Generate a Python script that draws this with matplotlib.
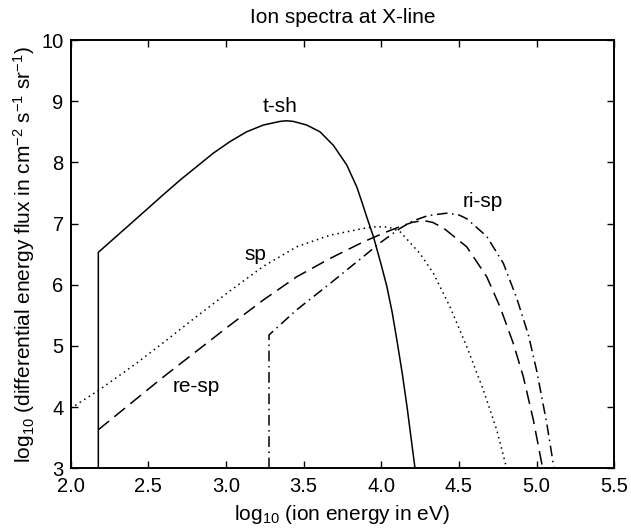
import numpy as np
import matplotlib.pyplot as plt

plt.rcParams['font.family'] = ['Liberation Sans', 'DejaVu Sans']
plt.rcParams['mathtext.default'] = 'regular'

# t-sh (solid)
tsh_x = [2.178, 2.178, 2.414, 2.60, 2.704, 2.811, 2.918, 3.026, 3.133, 3.24,
         3.348, 3.39, 3.433, 3.52, 3.605, 3.691, 3.777, 3.842, 3.874, 3.906,
         3.95, 4.0, 4.035, 4.07, 4.10, 4.135, 4.167, 4.217]
tsh_y = [3.0, 6.53, 7.06, 7.48, 7.71, 7.93, 8.15, 8.34, 8.50, 8.61,
         8.67, 8.68, 8.67, 8.61, 8.50, 8.28, 7.96, 7.60, 7.36, 7.11,
         6.78, 6.32, 5.98, 5.55, 5.10, 4.55, 3.98, 3.0]

# sp (dotted)
sp_x = [2.0, 2.178, 2.425, 2.6, 2.8, 3.026, 3.24, 3.455, 3.67, 3.884,
        3.97, 4.05, 4.12, 4.249, 4.335, 4.442, 4.55, 4.657, 4.743, 4.807]
sp_y = [3.98, 4.27, 4.72, 5.06, 5.46, 5.90, 6.30, 6.62, 6.81, 6.92,
        6.95, 6.94, 6.87, 6.51, 6.19, 5.64, 4.99, 4.28, 3.63, 3.0]

# re-sp (dashed)
resp_x = [2.178, 2.6, 3.026, 3.24, 3.455, 3.67, 3.884, 4.02, 4.12, 4.20,
          4.27, 4.33, 4.399, 4.55, 4.679, 4.764, 4.85, 4.914, 4.979, 5.039]
resp_y = [3.63, 4.50, 5.34, 5.75, 6.13, 6.43, 6.70, 6.85, 6.95, 7.02,
          7.05, 7.02, 6.93, 6.62, 6.13, 5.64, 5.04, 4.50, 3.79, 3.0]

# ri-sp (dash-dot)
risp_x = [3.277, 3.277, 3.455, 3.67, 3.884, 4.0, 4.12, 4.20, 4.30, 4.421,
          4.50, 4.55, 4.679, 4.786, 4.872, 4.947, 5.0, 5.065, 5.112]
risp_y = [3.0, 5.18, 5.59, 6.02, 6.46, 6.70, 6.92, 7.04, 7.13, 7.17,
          7.14, 7.08, 6.79, 6.35, 5.78, 5.18, 4.60, 3.74, 3.0]

labels = ['t-sh', 'sp', 're-sp', 'ri-sp']
label_x = [3.35, 3.19, 2.81, 4.65]
label_y = [8.92, 6.49, 4.33, 7.36]

fig = plt.figure(figsize=(6.31, 5.30), dpi=100)
ax = fig.add_axes([0.112, 0.1164, 0.8615, 0.8081])

ax.plot(tsh_x, tsh_y, color='black', lw=1.1, ls='-')
ax.plot(sp_x, sp_y, color='black', lw=1.1, ls=(0, (1, 2.5)))
ax.plot(resp_x, resp_y, color='black', lw=1.1, ls=(0, (9, 4.5)))
ax.plot(risp_x, risp_y, color='black', lw=1.1, ls=(0, (7, 3, 1, 3)))

for lab, lx, ly in zip(labels, label_x, label_y):
    ax.text(lx, ly, lab, ha='center', va='center', fontsize=15)

ax.set_xlim(2.0, 5.5)
ax.set_ylim(3, 10)
ax.set_xticks(np.arange(2.0, 5.51, 0.5))
ax.set_xticklabels(['%.1f' % v for v in np.arange(2.0, 5.51, 0.5)])
ax.set_yticks(range(3, 11))
ax.tick_params(direction='in', top=True, right=True, length=5, width=1,
               labelsize=14.5)
ax.tick_params(axis='x', pad=6)
ax.tick_params(axis='y', pad=5)
for s in ax.spines.values():
    s.set_linewidth(1.4)

ax.set_title('Ion spectra at X-line', fontsize=15, pad=12)
ax.set_xlabel('log$_{10}$ (ion energy in eV)', fontsize=15, labelpad=5)
ax.set_ylabel('log$_{10}$ (differential energy flux in cm$^{-2}$ s$^{-1}$ sr$^{-1}$)',
              fontsize=15, labelpad=3)

fig.savefig('out.png', dpi=100)
